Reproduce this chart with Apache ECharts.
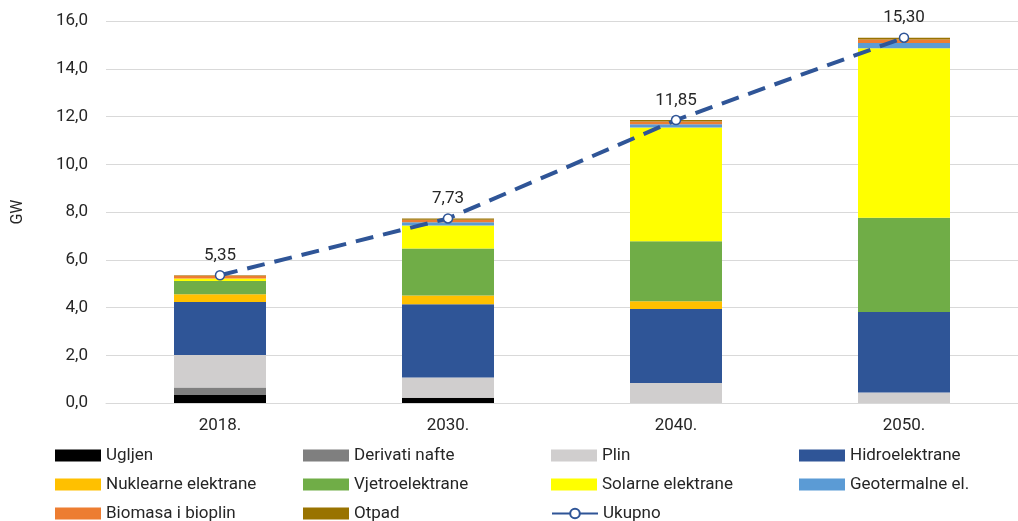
<!DOCTYPE html>
<html>
<head>
<meta charset="utf-8">
<script src="https://cdn.jsdelivr.net/npm/echarts@6/dist/echarts.min.js"></script>
<style>
  html, body { margin: 0; padding: 0; background: #fff; }
  #chart { width: 1018px; height: 521px; }
</style>
</head>
<body>
<div id="chart"></div>
<script>
  // podaci
  var years = ['2018.', '2030.', '2040.', '2050.'];
  var ugljen = [0.33, 0.22, 0, 0];
  var derivatiNafte = [0.32, 0, 0, 0];
  var plin = [1.36, 0.85, 0.84, 0.44];
  var hidro = [2.22, 3.07, 3.10, 3.37];
  var nuklearne = [0.32, 0.36, 0.32, 0];
  var vjetro = [0.56, 1.97, 2.51, 3.95];
  var solarne = [0.10, 0.96, 4.77, 7.10];
  var geotermalne = [0, 0.14, 0.14, 0.22];
  var biomasa = [0.12, 0.11, 0.11, 0.15];
  var otpad = [0.02, 0.05, 0.06, 0.07];
  var ukupno = [5.35, 7.73, 11.85, 15.30];
  var yTicks = [0, 2, 4, 6, 8, 10, 12, 14, 16];

  var font = '"Liberation Sans Narrow", Roboto, "Noto Sans", sans-serif';
  var chart = echarts.init(document.getElementById('chart'));

  var stacks = [
    ['Ugljen', ugljen, '#000000'],
    ['Derivati nafte', derivatiNafte, '#7f7f7f'],
    ['Plin', plin, '#d0cece'],
    ['Hidroelektrane', hidro, '#2f5597'],
    ['Nuklearne elektrane', nuklearne, '#ffc000'],
    ['Vjetroelektrane', vjetro, '#70ad47'],
    ['Solarne elektrane', solarne, '#ffff00'],
    ['Geotermalne el.', geotermalne, '#5b9bd5'],
    ['Biomasa i bioplin', biomasa, '#ed7d31'],
    ['Otpad', otpad, '#997300']
  ];

  var series = [];
  stacks.forEach(function (s) {
    series.push({
      name: s[0],
      type: 'bar',
      stack: 'ukupno',
      barWidth: 92,
      data: s[1],
      itemStyle: { color: s[2] }
    });
  });
  series.push({
    name: 'Ukupno',
    type: 'line',
    data: ukupno,
    symbol: 'circle',
    symbolSize: 9,
    z: 5,
    lineStyle: { color: '#2f5597', width: 4, type: [18, 10] },
    itemStyle: { color: '#fff', borderColor: '#2f5597', borderWidth: 1.5 },
    label: {
      show: true,
      position: 'top',
      distance: 6,
      fontFamily: font,
      fontSize: 17,
      color: '#262626',
      formatter: function (p) { return p.value.toFixed(2).replace('.', ','); }
    }
  });

  var legendData = stacks.map(function (s) { return { name: s[0], icon: 'rect' }; });
  legendData.push({ name: 'Ukupno' });

  var option = {
    animation: false,
    textStyle: { fontFamily: font },
    grid: { left: 106, top: 21, width: 926, height: 382 },
    legend: {
      left: 55,
      top: 446,
      width: 1000,
      padding: 0,
      itemWidth: 46,
      itemHeight: 12,
      itemGap: 10,
      textStyle: { fontFamily: font, fontSize: 17, color: '#262626', width: 187, lineHeight: 19 },
      data: legendData
    },
    xAxis: {
      type: 'category',
      data: years,
      axisLine: { show: true, lineStyle: { color: '#d9d9d9' } },
      axisTick: { show: false },
      axisLabel: { fontSize: 17, color: '#262626', margin: 14, fontFamily: font }
    },
    yAxis: {
      type: 'value',
      min: yTicks[0],
      max: yTicks[yTicks.length - 1],
      interval: 2,
      name: 'GW',
      nameLocation: 'middle',
      nameGap: 80,
      nameRotate: 90,
      nameTextStyle: { fontSize: 16, color: '#262626', fontFamily: font },
      axisLine: { show: false },
      axisTick: { show: false },
      splitLine: { lineStyle: { color: '#d9d9d9', width: 1 } },
      axisLabel: {
        fontSize: 17,
        color: '#262626',
        margin: 18,
        fontFamily: font,
        formatter: function (v) { return v.toFixed(1).replace('.', ','); }
      }
    },
    series: series
  };
  chart.setOption(option);
</script>
</body>
</html>
